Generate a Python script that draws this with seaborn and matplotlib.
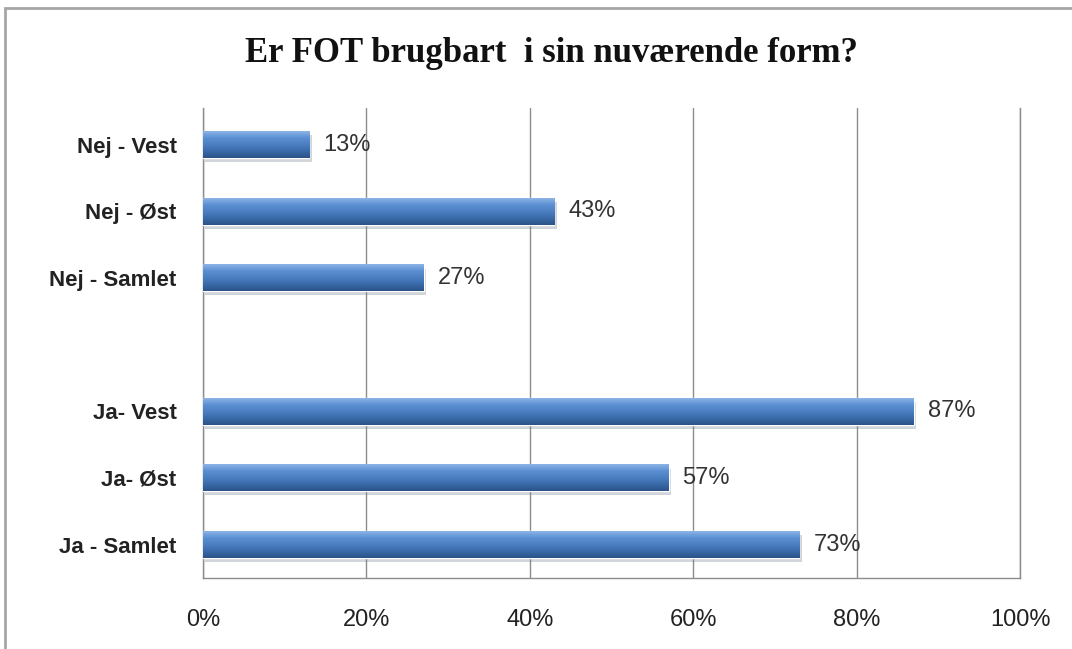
import numpy as np
import pandas as pd
import matplotlib
matplotlib.use("Agg")
import matplotlib.pyplot as plt
import seaborn as sns
from matplotlib.patches import Rectangle

# Chart data (top to bottom); blank slot separates the two groups
order = ["Nej - Vest", "Nej - Øst", "Nej - Samlet", " ", "Ja- Vest", "Ja- Øst", "Ja - Samlet"]
labels = ["Nej - Vest", "Nej - Øst", "Nej - Samlet", "Ja- Vest", "Ja- Øst", "Ja - Samlet"]
values = [13, 43, 27, 87, 57, 73]
xticks = [0, 20, 40, 60, 80, 100]

df = pd.DataFrame({"label": labels, "value": values})

sns.set_style("white")
plt.rcParams["font.family"] = ["Liberation Sans", "DejaVu Sans"]

fig = plt.figure(figsize=(10.72, 6.49), dpi=100)
ax = fig.add_axes([203 / 1072, 1 - 578 / 649, (1020 - 203) / 1072, (578 - 108) / 649])

sns.barplot(data=df, x="value", y="label", order=order, color="#4f81bd",
            width=0.4, ax=ax, zorder=3)

# gradient fill over each bar, like the glossy office look (light on top)
grad = np.linspace(0, 1, 64).reshape(-1, 1)
cmap = matplotlib.colors.LinearSegmentedColormap.from_list(
    "bar", ["#2c5388", "#3a6aa8", "#4a7fc1", "#5b8fd2", "#8cb4e6"])
for p in ax.patches:
    x0, y0 = p.get_x(), p.get_y()
    w, h = p.get_width(), p.get_height()
    # soft shadow below and to the right
    ax.add_patch(Rectangle((x0 + 0.3, y0 + 0.06), w, h, color="#7d8796", alpha=0.35,
                           zorder=2, linewidth=0))
    ax.imshow(grad, cmap=cmap, aspect="auto", extent=(x0, x0 + w, y0, y0 + h),
              zorder=4, interpolation="bicubic")
    ax.text(x0 + w + 1.7, y0 + h / 2, f"{w:.0f}%", va="center", ha="left",
            fontsize=17, color="#333333", zorder=5)

ax.set_xlim(0, 100)
ax.set_ylim(6.5, -0.55)
ax.set_xticks(xticks)
ax.set_xticklabels([f"{t}%" for t in xticks], fontsize=17, color="#222222")
ax.tick_params(axis="x", length=0, pad=22)
ax.tick_params(axis="y", length=0, pad=19)
for t in ax.get_yticklabels():
    t.set_fontsize(16)
    t.set_fontweight("bold")
    t.set_color("#222222")
ax.set_xlabel("")
ax.set_ylabel("")
ax.xaxis.grid(True, color="#8c8c8c", linewidth=1, zorder=0)
ax.set_axisbelow(True)
for side in ["left", "bottom", "right"]:
    ax.spines[side].set_color("#8c8c8c")
    ax.spines[side].set_linewidth(1)
ax.spines["top"].set_visible(False)

fig.text(0.514, 1 - 53 / 649, "Er FOT brugbart  i sin nuværende form?", ha="center", va="center",
         fontsize=25, fontweight="bold", family=["Liberation Serif", "DejaVu Serif"],
         color="#111111")

# outer chart border (cut off at right and bottom in the original)
fig.patches.append(Rectangle((5 / 1072, -0.1), 1.2, 1 - 8 / 649 + 0.1, transform=fig.transFigure,
                             fill=False, edgecolor="#a6a6a6", linewidth=2))

fig.savefig("out.png", dpi=100)
